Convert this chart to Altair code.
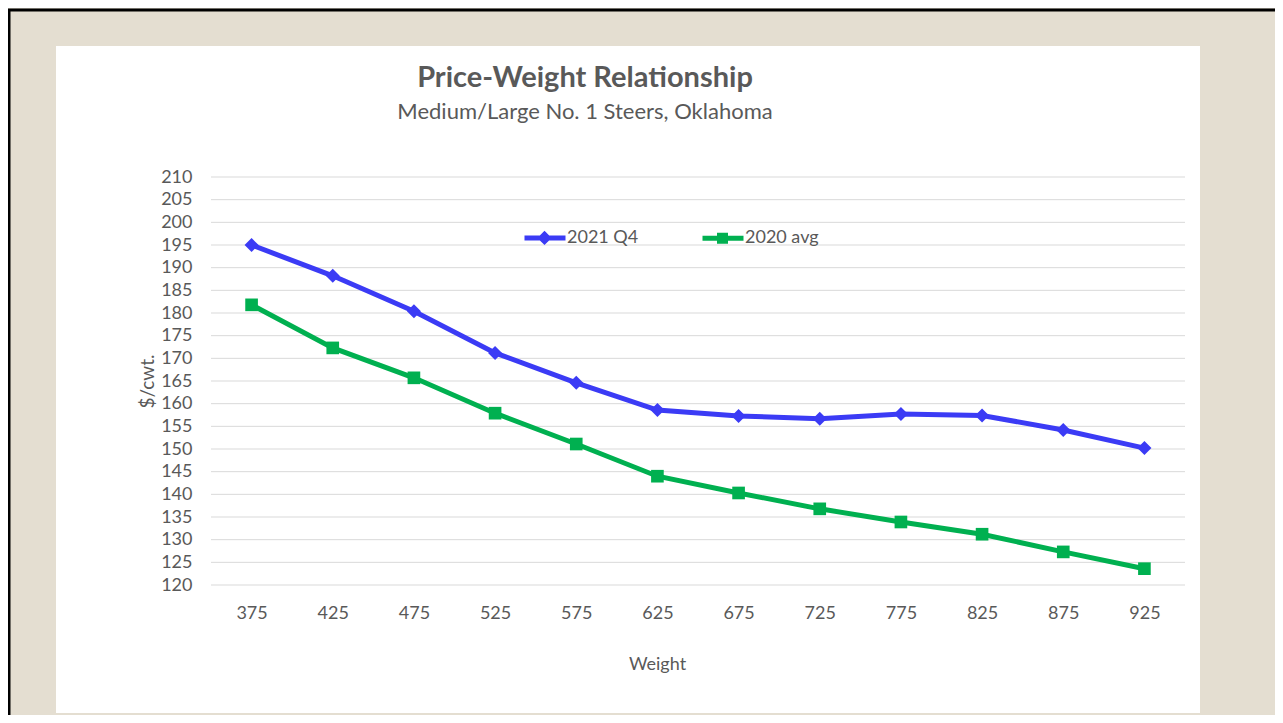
import altair as alt
import pandas as pd

weights = [375, 425, 475, 525, 575, 625, 675, 725, 775, 825, 875, 925]
q4_2021 = [195.0, 188.2, 180.4, 171.2, 164.6, 158.6, 157.3, 156.7, 157.7, 157.4, 154.2, 150.2]
avg_2020 = [181.8, 172.3, 165.7, 157.9, 151.1, 144.0, 140.3, 136.8, 133.9, 131.2, 127.3, 123.6]
series_names = ["2021 Q4", "2020 avg"]
series_colors = ["#3B3BF5", "#00B050"]
y_ticks = list(range(120, 215, 5))

title_text = "Price-Weight Relationship"
subtitle_text = "Medium/Large No. 1 Steers, Oklahoma"
x_title = "Weight"
y_title = "$/cwt."

df = pd.DataFrame(
    {
        "weight": weights * 2,
        "price": q4_2021 + avg_2020,
        "series": [series_names[0]] * len(weights) + [series_names[1]] * len(weights),
    }
)
grid_df = pd.DataFrame({"price": y_ticks})

FONT = "Lato"
GREY = "#595959"

yscale = alt.Scale(domain=[120, 210], nice=False, zero=False)
cscale = alt.Scale(domain=series_names, range=series_colors)

x_axis = alt.Axis(
    title=x_title,
    domain=False,
    ticks=False,
    grid=False,
    zindex=2,
    labelAngle=0,
    labelFont=FONT,
    labelFontSize=18,
    labelColor=GREY,
    labelPadding=19,
    titleFont=FONT,
    titleFontSize=18,
    titleFontWeight="normal",
    titleColor=GREY,
    titleX=446,
    titleY=79,
    titleBaseline="middle",
    titleAlign="center",
)
y_axis = alt.Axis(
    title=y_title,
    values=y_ticks,
    domain=False,
    ticks=False,
    grid=False,
    zindex=2,
    labelFont=FONT,
    labelFontSize=18,
    labelColor=GREY,
    labelPadding=19,
    titleFont=FONT,
    titleFontSize=19,
    titleFontWeight="normal",
    titleColor=GREY,
    titleAngle=270,
    titleX=-64,
    titleY=204,
    titleAlign="center",
    titleBaseline="middle",
)
x_enc = alt.X("weight:O", sort=weights, axis=x_axis)
y_enc = alt.Y("price:Q", scale=yscale, axis=y_axis)

one = alt.Data(values=[{"a": 1}])

panel = alt.Chart(one).mark_rect(color="white").encode(
    x=alt.value(-155), x2=alt.value(989), y=alt.value(-131), y2=alt.value(536)
)
frame_top = alt.Chart(one).mark_rule(color="black", strokeWidth=3).encode(
    x=alt.value(-203), x2=alt.value(1080), y=alt.value(-167)
)
frame_left = alt.Chart(one).mark_rule(color="black", strokeWidth=3).encode(
    x=alt.value(-202), y=alt.value(-168), y2=alt.value(560)
)

title = alt.Chart(one).mark_text(
    font=FONT, fontSize=29, fontWeight="bold", color=GREY, baseline="middle", align="center"
).encode(x=alt.value(374), y=alt.value(-99), text=alt.value(title_text))
subtitle = alt.Chart(one).mark_text(
    font=FONT, fontSize=22, color=GREY, baseline="middle", align="center"
).encode(x=alt.value(374), y=alt.value(-65), text=alt.value(subtitle_text))

grid = alt.Chart(grid_df).mark_rule(color="#D9D9D9", strokeWidth=1).encode(y=y_enc)

lines = alt.Chart(df).mark_line(strokeWidth=5).encode(
    x=x_enc, y=y_enc, color=alt.Color("series:N", scale=cscale, legend=None)
)
pts_a = alt.Chart(df).transform_filter(alt.datum.series == series_names[0]).mark_point(
    shape="diamond", filled=True, size=196, opacity=1
).encode(x=x_enc, y=y_enc, color=alt.Color("series:N", scale=cscale, legend=None))
pts_b = alt.Chart(df).transform_filter(alt.datum.series == series_names[1]).mark_point(
    shape="square", filled=True, size=160, opacity=1
).encode(x=x_enc, y=y_enc, color=alt.Color("series:N", scale=cscale, legend=None))

leg = alt.Legend(
    title=None,
    orient="none",
    direction="horizontal",
    legendX=311,
    legendY=38,
    zindex=2,
    labelFont=FONT,
    labelFontSize=18,
    labelColor=GREY,
    labelOffset=0,
    symbolSize=1600,
    symbolStrokeWidth=5,
    symbolOpacity=1,
    columnPadding=53,
)
path_diamond = "M-1,0L1.05,0M0,-0.18L0.18,0L0,0.18L-0.18,0Z"
path_square = "M-1,0L1.05,0M-0.15,-0.15L0.15,-0.15L0.15,0.15L-0.15,0.15Z"
# legend-only layer: drawn first, so the white panel hides its marks
legend_layer = alt.Chart(df).mark_point(filled=True, size=4).encode(
    x=x_enc,
    y=y_enc,
    fill=alt.Fill("series:N", scale=alt.Scale(domain=series_names, range=series_colors), legend=leg),
    stroke=alt.Stroke("series:N", scale=alt.Scale(domain=series_names, range=series_colors), legend=leg),
    shape=alt.Shape("series:N", scale=alt.Scale(domain=series_names, range=[path_diamond, path_square]), legend=leg),
)

chart = (
    alt.layer(legend_layer, panel, frame_top, frame_left, title, subtitle, grid, lines, pts_a, pts_b)
    .properties(
        width=974,
        height=408,
        padding={"left": 203, "top": 169, "right": 90, "bottom": 130},
        autosize=alt.AutoSizeParams(type="none"),
        background="#E4DED1",
    )
    .configure_view(stroke=None)
)

chart.save("out.html", embed_options={"renderer": "svg", "actions": False})
